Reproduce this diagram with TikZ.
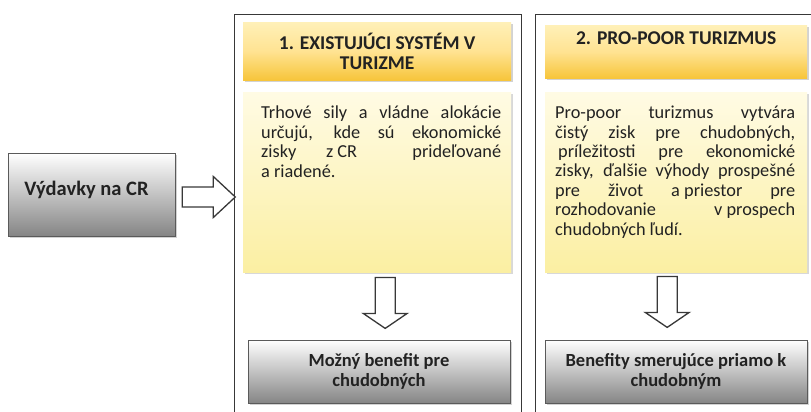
\documentclass[tikz,border=0pt]{standalone}
\usepackage{fontspec}
\setmainfont{Carlito}
\usetikzlibrary{calc,shadows}
\definecolor{frameC}{HTML}{383838}
\definecolor{txtC}{HTML}{222222}
\definecolor{headTop}{HTML}{FFF0B8}
\definecolor{headMid}{HTML}{FFE392}
\definecolor{headBot}{HTML}{F7C53A}
\definecolor{bodyTop}{HTML}{FFFBE4}
\definecolor{bodyBot}{HTML}{FBEFA2}
\definecolor{grayBot}{HTML}{858585}
\definecolor{grayLine}{HTML}{5A5A5A}
\newcommand{\jline}[1]{\makebox[240pt][s]{#1}}
\begin{document}
\begin{tikzpicture}[x=1pt,y=-1pt,
  every node/.style={text=txtC},
  frame/.style={draw=frameC, line width=1.3pt, anchor=north west, inner sep=0pt},
  header/.style={anchor=north west, top color=headTop, bottom color=headBot, middle color=headMid,
    align=center, font=\bfseries\fontsize{19.5}{20.5}\selectfont, inner sep=0pt,
    drop shadow={opacity=0.35, shadow xshift=1.5pt, shadow yshift=-2pt}},
  bodybox/.style={anchor=north west, top color=bodyTop, bottom color=bodyBot, inner sep=0pt,
    drop shadow={opacity=0.3, shadow xshift=1.5pt, shadow yshift=-2pt}},
  bodytext/.style={anchor=north west, inner sep=0pt, align=left, font=\fontsize{18.3}{19.4}\selectfont},
  graybox/.style={draw=grayLine, line width=0.6pt, top color=white, bottom color=grayBot,
    align=center, font=\bfseries\fontsize{18.5}{20}\selectfont, inner sep=0pt,
    drop shadow={opacity=0.35, shadow xshift=1.5pt, shadow yshift=-2pt}},
  blockarrow/.style={draw=frameC, line width=1.3pt, fill=white, line join=miter},
  rarrow/.pic={\draw[blockarrow] (0,-10) -- (31,-10) -- (31,-20.5) -- (53,0) -- (31,20.5) -- (31,10) -- (0,10) -- cycle;},
  darrow/.pic={\draw[blockarrow] (-10,0) -- (10,0) -- (10,36) -- (22,36) -- (0,51) -- (-22,36) -- (-10,36) -- cycle;}
]
\useasboundingbox (0,0) rectangle (811,412);
\begin{scope}
\clip (0,0) rectangle (811,412);
\fill[white] (0,0) rectangle (811,412);

% frames
\node[frame, minimum width=287pt, minimum height=430pt] (frame1) at (234,14) {};
\node[frame, minimum width=300pt, minimum height=430pt] (frame2) at (535,14) {};

% left box
\node[graybox, minimum width=167pt, minimum height=83pt] (left) at (91.5,194.5) {};
\node[font=\bfseries\fontsize{20.5}{22}\selectfont, inner sep=0pt] (lefttxt) at ($(left.center)+(-5,-5)$) {Výdavky na CR};

% column 1
\node[header, minimum width=268pt, minimum height=58pt] (head1) at (243,22) {1. EXISTUJÚCI SYSTÉM V\\TURIZME};
\node[bodybox, minimum width=268pt, minimum height=180pt] (body1) at (243,92) {};
\node[bodytext] (txt1) at ($(body1.north west)+(18,14)$) {%
\jline{Trhové sily a vládne alokácie}\\
\jline{určujú, kde sú ekonomické}\\
\jline{zisky\hspace{0pt plus 1fil} z CR\hspace{0pt plus 2fil} prideľované}\\
a riadené.};
\node[graybox, minimum width=262pt, minimum height=63pt] (ben1) at (379,371.5) {Možný benefit pre\\chudobných};

% column 2
\node[header, minimum width=262pt, minimum height=53pt] (head2) at (545,25) {2. PRO-POOR TURIZMUS\\\strut};
\node[bodybox, minimum width=262pt, minimum height=180pt] (body2) at (545,92) {};
\node[bodytext] (txt2) at ($(body2.north west)+(10,14)$) {%
\jline{Pro-poor turizmus vytvára}\\
\jline{čistý zisk pre chudobných,}\\
\jline{\hspace{3pt}príležitosti pre ekonomické}\\
\jline{zisky, ďalšie výhody prospešné}\\
\jline{pre\hfill život\hfill a priestor\hfill pre}\\
\jline{rozhodovanie\hfill v prospech}\\
chudobných ľudí.};
\node[graybox, minimum width=262pt, minimum height=63pt] (ben2) at (676,371.5) {Benefity smerujúce priamo k\\chudobným};

% arrows
\pic at ($(left.east)+(7,2.5)$) {rarrow};
\pic at ($(body1.south)+(8,5)$) {darrow};
\pic at ($(body2.south)+(-9,4)$) {darrow};
\end{scope}
\end{tikzpicture}
\end{document}
